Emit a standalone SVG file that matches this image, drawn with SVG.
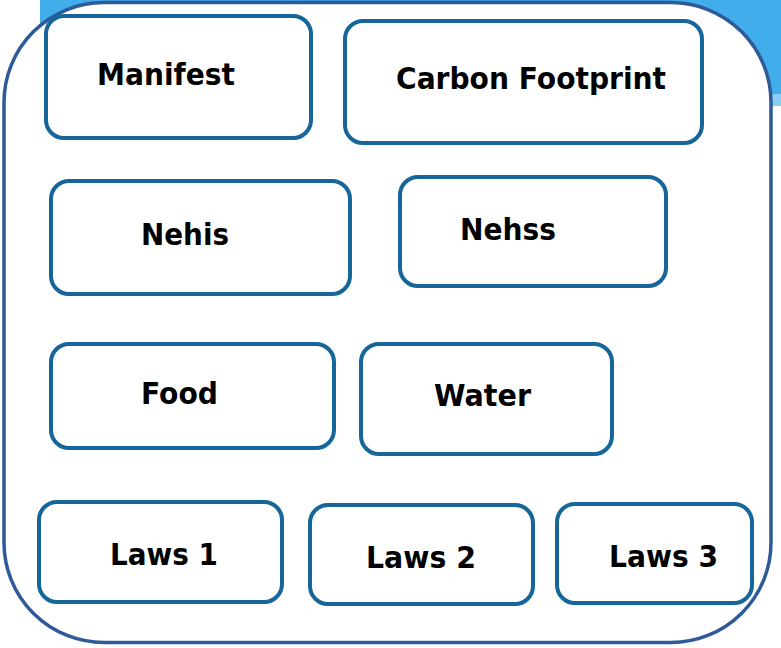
<svg xmlns="http://www.w3.org/2000/svg" width="781" height="648" viewBox="0 0 781 648">
<style>
.node{fill:#fff;stroke:#16669A;stroke-width:4}
.lbl{font-family:"DejaVu Sans",Verdana,sans-serif;font-weight:bold;font-size:29.5px;fill:#000}
</style>
<rect width="781" height="648" fill="#fff"/>
<g id="background">
<rect x="40" y="0" width="741" height="96" fill="#41ADEB"/>
<rect x="740" y="94" width="41" height="12" fill="#8ACDF3"/>
</g>
<g id="frame">
<rect x="4" y="2.5" width="767" height="640" rx="100" ry="100" fill="#fff" stroke="#2F5A98" stroke-width="3.5"/>
</g>
<g id="connectors"></g>
<g id="manifest"><rect class="node" x="46" y="16" width="265" height="122" rx="18"/><text class="lbl" x="97" y="85" textLength="138" lengthAdjust="spacingAndGlyphs">Manifest</text></g>
<g id="carbon"><rect class="node" x="345" y="21" width="357" height="122" rx="18"/><text class="lbl" x="396" y="89" textLength="270" lengthAdjust="spacingAndGlyphs">Carbon Footprint</text></g>
<g id="nehis"><rect class="node" x="51" y="181" width="299" height="113" rx="18"/><text class="lbl" x="141" y="245" textLength="88" lengthAdjust="spacingAndGlyphs">Nehis</text></g>
<g id="nehss"><rect class="node" x="400" y="177" width="266" height="109" rx="18"/><text class="lbl" x="460" y="240" textLength="96" lengthAdjust="spacingAndGlyphs">Nehss</text></g>
<g id="food"><rect class="node" x="51" y="344" width="283" height="104" rx="18"/><text class="lbl" x="141" y="404" textLength="77" lengthAdjust="spacingAndGlyphs">Food</text></g>
<g id="water"><rect class="node" x="361" y="344" width="251" height="110" rx="18"/><text class="lbl" x="434" y="406" textLength="97" lengthAdjust="spacingAndGlyphs">Water</text></g>
<g id="laws1"><rect class="node" x="39" y="502" width="243" height="100" rx="18"/><text class="lbl" x="110" y="565" textLength="108" lengthAdjust="spacingAndGlyphs">Laws 1</text></g>
<g id="laws2"><rect class="node" x="310" y="505" width="223" height="99" rx="18"/><text class="lbl" x="366" y="568" textLength="110" lengthAdjust="spacingAndGlyphs">Laws 2</text></g>
<g id="laws3"><rect class="node" x="557" y="504" width="195" height="99" rx="18"/><text class="lbl" x="609" y="567" textLength="109" lengthAdjust="spacingAndGlyphs">Laws 3</text></g>
</svg>
